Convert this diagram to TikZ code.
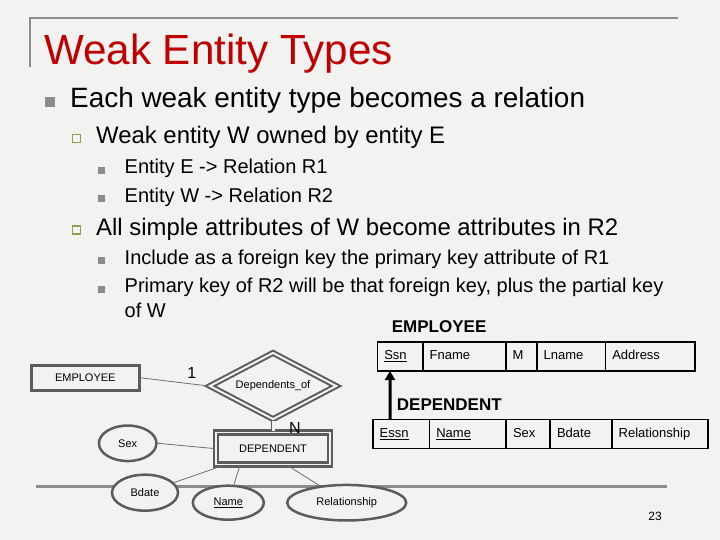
\documentclass[tikz,border=0pt]{standalone}
\usepackage{fontspec}
\setmainfont{Liberation Sans}
\usepackage{tikz}
\usetikzlibrary{arrows.meta,positioning,calc,shapes.geometric}
\definecolor{SlideBg}{HTML}{F2F2F0}
\definecolor{TitleRed}{HTML}{C00000}
\definecolor{RuleGray}{HTML}{8C8C8C}
\definecolor{ErGray}{HTML}{5C5C5C}
\definecolor{LinkGray}{HTML}{6E6E6E}
\definecolor{OliveBox}{HTML}{9A9A4C}
\begin{document}
\begin{tikzpicture}[x=1bp, y=-1bp, >=Latex]
\tikzset{rule/.style={draw=RuleGray, line width=2bp}, foot/.style={draw=RuleGray, line width=3bp}, title/.style={anchor=base west, inner sep=0pt, text=TitleRed, font=\fontsize{42.2bp}{48bp}\selectfont}, lone/.style={anchor=base west, inner sep=0pt, font=\fontsize{27.9bp}{33bp}\selectfont}, ltwo/.style={anchor=base west, inner sep=0pt, font=\fontsize{23.9bp}{28bp}\selectfont}, lthree/.style={anchor=base west, inner sep=0pt, align=left, font=\fontsize{20bp}{24.6bp}\selectfont}, bone/.style={fill=RuleGray, inner sep=0pt, minimum size=10bp}, btwo/.style={draw=OliveBox, fill=SlideBg, line width=1.2bp, inner sep=0pt, minimum size=8bp}, bthree/.style={fill=RuleGray, inner sep=0pt, minimum size=7bp}}
\tikzset{entity/.style={draw=ErGray, line width=3bp, fill=SlideBg, minimum width=107.7bp, minimum height=24.7bp, font=\fontsize{11bp}{13bp}\selectfont}, idrel/.style={diamond, draw=ErGray, double=SlideBg, double distance=2bp, line width=2bp, inner sep=0pt, aspect=1.8, minimum width=127bp, minimum height=67bp, font=\fontsize{11bp}{13bp}\selectfont}, weak/.style={draw=ErGray, double=SlideBg, double distance=1.5bp, line width=2.5bp, minimum width=114bp, minimum height=32.2bp, font=\fontsize{11bp}{13bp}\selectfont}, attr/.style={ellipse, draw=ErGray, line width=2.5bp, fill=SlideBg, inner sep=0pt, font=\fontsize{11bp}{13bp}\selectfont}, link/.style={draw=LinkGray, line width=0.8bp}, dlink/.style={draw=ErGray, double=SlideBg, double distance=3bp, line width=0.8bp}, card/.style={inner sep=0pt, font=\fontsize{16bp}{18bp}\selectfont}}
\tikzset{relname/.style={anchor=base west, inner sep=0pt, font=\bfseries\fontsize{17bp}{20bp}\selectfont}, cell/.style={draw, line width=1.6bp, anchor=north west, outer sep=0pt, inner xsep=7bp, inner ysep=0pt, align=left, text height=10bp, text depth=3bp, font=\fontsize{13bp}{15bp}\selectfont}, emprow/.style={cell, minimum height=29.3bp}, deprow/.style={cell, minimum height=29bp}, fk/.style={draw=black, line width=3bp, -{Triangle[length=9bp,width=10bp]}}}
\fill[SlideBg] (0,0) rectangle (720,540);
\useasboundingbox (0,0) rectangle (720,540);
\draw[rule] (30,66.7) -- (30,18.3) -- (678,18.3);
\node[title] (ttl) at (44,65) {Weak Entity Types};
\node[bone] (b1) at (50,102.3) {};
\node[lone] (t1) at (70,107.3) {Each weak entity type becomes a relation};
\node[btwo] (b2) at (76.2,138.7) {};
\node[ltwo] (t2) at (96,144) {Weak entity W owned by entity E};
\node[bthree] (b3) at (101.2,170.7) {};
\node[lthree] (t3) at (124.5,174) {Entity E -> Relation R1};
\node[bthree] (b4) at (101.2,198.6) {};
\node[lthree] (t4) at (124.5,202.5) {Entity W -> Relation R2};
\node[btwo] (b5) at (76.2,230) {};
\node[ltwo] (t5) at (96,236) {All simple attributes of W become attributes in R2};
\node[bthree] (b6) at (101.2,260.7) {};
\node[lthree] (t6) at (124.5,265) {Include as a foreign key the primary key attribute of R1};
\node[bthree] (b7) at (101.2,289) {};
\node[lthree] (t7) at (124.5,317.3) {Primary key of R2 will be that foreign key, plus the partial key\\of W};
\draw[foot] (36,486) -- (667.3,486);
\node[entity] (emp) at (85.3,377.8) {EMPLOYEE};
\node[idrel] (depof) at (273,386) {Dependents\_of};
\node[weak] (dep) at (273,448.6) {DEPENDENT};
\node[attr, minimum width=57.5bp, minimum height=35.5bp] (sex) at (127.7,443.3) {Sex};
\node[attr, minimum width=66bp, minimum height=36bp] (bdate) at (145,492.7) {Bdate};
\node[attr, minimum width=71bp, minimum height=34bp] (name) at (228.3,502.7) {\underline{Name}};
\node[attr, minimum width=119bp, minimum height=35.5bp] (relship) at (346.7,502.7) {Relationship};
\node[card] (one) at (191.7,373) {1};
\node[card] (many) at (295,428) {N};
\draw[link] (emp.east) -- (depof.west); \draw[dlink] (depof.south) -- (dep.north); \draw[link] (sex.east) -- (dep.west);
\draw[link] (bdate) -- ([xshift=7bp]dep.south west); \draw[link] (name) -- ([xshift=25bp]dep.south west); \draw[link] ([xshift=-43bp]dep.south east) -- (relship);
\node[relname] (emph) at (391.7,332.7) {EMPLOYEE};
\node[emprow, text width=31.4bp] (ssn) at (377.3,341.7) {\underline{Ssn}};
\node[emprow, text width=69bp] (fname) at (ssn.north east) {Fname};
\node[emprow, text width=17bp] (minit) at (fname.north east) {M};
\node[emprow, text width=54.6bp] (lname) at (minit.north east) {Lname};
\node[emprow, text width=75.7bp] (addr) at (lname.north east) {Address};
\node[relname] (deph) at (396.7,410) {DEPENDENT};
\node[deprow, text width=42.6bp] (essn) at (372.7,419.3) {\underline{Essn}};
\node[deprow, text width=62.7bp] (dname) at (essn.north east) {\underline{Name}};
\node[deprow, text width=30bp] (dsex) at (dname.north east) {Sex};
\node[deprow, text width=47.7bp] (dbdate) at (dsex.north east) {Bdate};
\node[deprow, text width=82bp] (drel) at (dbdate.north east) {Relationship};
\draw[fk] ([xshift=17.3bp]essn.north west) -- ([xshift=12.7bp]ssn.south west);
\node[inner sep=0pt, font=\fontsize{12bp}{14bp}\selectfont] (pg) at (655,516.7) {23};
\end{tikzpicture}
\end{document}
